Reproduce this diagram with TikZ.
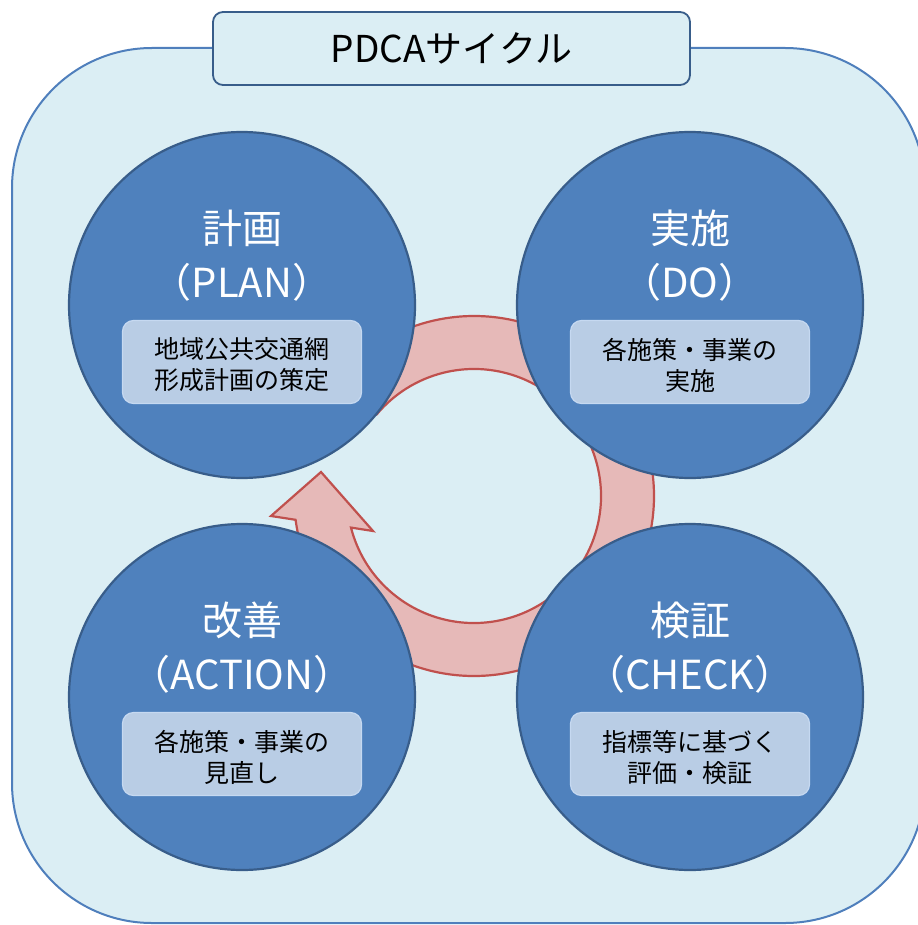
\documentclass[tikz,border=0pt]{standalone}
\usepackage{fontspec}
\setmainfont{Noto Sans CJK JP}
\usetikzlibrary{calc}
\definecolor{bgfill}{HTML}{DBEEF4}
\definecolor{bgline}{HTML}{4F7FBC}
\definecolor{titleline}{HTML}{385D8A}
\definecolor{circfill}{HTML}{4F81BD}
\definecolor{circline}{HTML}{385D8A}
\definecolor{boxfill}{HTML}{B9CDE5}
\definecolor{boxline}{HTML}{C6D9F1}
\definecolor{ringfill}{HTML}{E6B9B8}
\definecolor{ringline}{HTML}{C0504D}
\begin{document}
\begin{tikzpicture}[x=1pt,y=1pt,
  phase/.style={circle, fill=circfill, draw=circline, line width=2.2pt, minimum size=346pt, inner sep=0pt},
  headtext/.style={text=white, font=\fontsize{40}{44}\selectfont, inner sep=0pt},
  innerbox/.style={rectangle, rounded corners=11pt, fill=boxfill, draw=boxline, line width=1.2pt, minimum width=239pt, minimum height=83pt, inner sep=0pt},
  boxtext/.style={text=black, font=\fontsize{25}{31}\selectfont, align=center, inner sep=0pt},
  titlebox/.style={rectangle, rounded corners=10pt, fill=bgfill, draw=titleline, line width=1.8pt, minimum width=477pt, minimum height=73pt, inner sep=0pt, font=\fontsize{37}{40}\selectfont, text=black},
  ringstyle/.style={fill=ringfill, draw=ringline, line width=2.2pt, line join=miter}
]
\useasboundingbox (0,0) rectangle (917,-925);
% background panel
\draw[fill=bgfill, draw=bgline, line width=2pt, rounded corners=140pt] (12,-48) rectangle (925,-923);
% title
\node[titlebox] (title) at (451.5,-48.5) {PDCAサイクル};
% circular arrow
\coordinate (rc) at (474,-496);
\draw[ringstyle] ($(rc)+(140:180)$) arc[start angle=140, end angle=-172.4, radius=180]
  -- (271,-516) -- (321,-472) -- (373,-531)
  -- ($(rc)+(-165.6:127)$) arc[start angle=-165.6, end angle=140, radius=127] -- cycle;
% phases
\node[phase] (plan) at (242,-305) {};
\node[phase] (do) at (690,-305) {};
\node[phase] (check) at (690,-697) {};
\node[phase] (act) at (242,-697) {};
% plan
\node[headtext] (planj) at ($(plan)+(0,77)$) {計画};
\node[headtext] (plane) at ($(plan)+(0,23)$) {（PLAN）};
\node[innerbox] (planbox) at ($(plan)+(0,-57)$) {};
\node[boxtext] (plant) at ($(planbox)+(0,-3)$) {地域公共交通網\\形成計画の策定};
% do
\node[headtext] (doj) at ($(do)+(0,77)$) {実施};
\node[headtext] (doe) at ($(do)+(0,23)$) {（DO）};
\node[innerbox] (dobox) at ($(do)+(0,-57)$) {};
\node[boxtext] (dot) at ($(dobox)+(0,-3)$) {各施策・事業の\\実施};
% check
\node[headtext] (checkj) at ($(check)+(0,77)$) {検証};
\node[headtext] (checke) at ($(check)+(0,23)$) {（CHECK）};
\node[innerbox] (checkbox) at ($(check)+(0,-57)$) {};
\node[boxtext] (checkt) at ($(checkbox)+(0,-3)$) {指標等に基づく\\評価・検証};
% action
\node[headtext] (actj) at ($(act)+(0,77)$) {改善};
\node[headtext] (acte) at ($(act)+(0,23)$) {（ACTION）};
\node[innerbox] (actbox) at ($(act)+(0,-57)$) {};
\node[boxtext] (actt) at ($(actbox)+(0,-3)$) {各施策・事業の\\見直し};
\end{tikzpicture}
\end{document}
